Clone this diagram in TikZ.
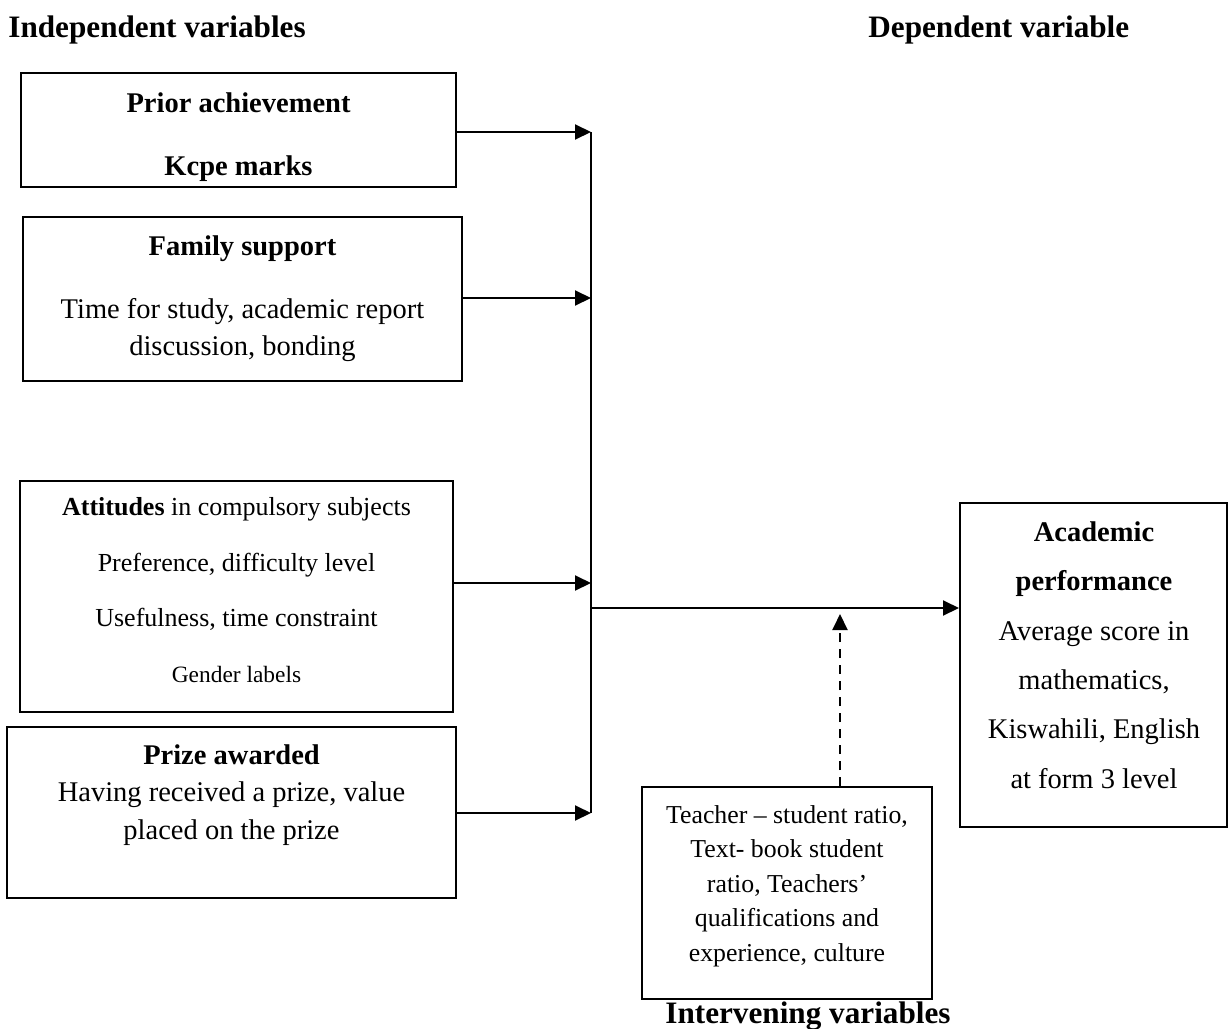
\documentclass[tikz,border=0pt]{standalone}
\usepackage{fontspec}
\setmainfont{Liberation Serif}
\usetikzlibrary{arrows.meta}
\usetikzlibrary{fit}
\tikzset{varbox/.style = {draw, line width=1pt, inner sep=0pt},
         arrow/.style = {line width=1pt, -{Triangle[length=8pt, width=7.5pt]}},
         heading/.style = {font=\fontsize{15.6}{18}\selectfont\bfseries, inner sep=0pt}}

\begin{document}
\begin{tikzpicture}[x=0.5pt, y=-0.5pt]
      \useasboundingbox (0, 0) rectangle (1231, 1028);

      \node [heading, anchor=west] (indep) at (8, 30) {Independent variables};
      \node [heading, anchor=west] (dep) at (868, 30) {Dependent variable};
      \node [heading, anchor=west] (interv) at (665, 1016) {Intervening variables};

      \node [varbox, fit={(21, 73) (456, 187)}] (prior) {};
      \node [varbox, fit={(23, 217) (462, 381)}] (family) {};
      \node [varbox, fit={(20, 481) (453, 712)}] (attitudes) {};
      \node [varbox, fit={(7, 727) (456, 898)}] (prize) {};
      \node [varbox, fit={(960, 503) (1227, 827)}] (academic) {};
      \node [varbox, fit={(642, 787) (932, 999)}] (intervening) {};

      \node [align=center, font=\fontsize{14.25}{31.5}\selectfont\bfseries] (priortext) at (238.5, 137.5)
            {Prior achievement\\ Kcpe marks};
      \node [align=center, font=\fontsize{14.25}{18.5}\selectfont] (familytext) at (242.5, 299)
            {\textbf{Family support}\\[13pt] Time for study, academic report\\ discussion, bonding};
      \node [align=center, font=\fontsize{13}{27.7}\selectfont] (attitudestext) at (236.5, 590)
            {\textbf{Attitudes} in compulsory subjects\\ Preference, difficulty level\\
             Usefulness, time constraint\\ {\fontsize{11.7}{27.7}\selectfont Gender labels}};
      \node [align=center, font=\fontsize{14.25}{18.75}\selectfont] (prizetext) at (231.5, 795)
            {\textbf{Prize awarded}\\ Having received a prize, value\\ placed on the prize};
      \node [align=center, font=\fontsize{14.25}{24.7}\selectfont] (academictext) at (1094, 655)
            {\textbf{Academic}\\ \textbf{performance}\\ Average score in\\ mathematics,\\
             Kiswahili, English\\ at form 3 level};
      \node [align=center, font=\fontsize{12.9}{17.25}\selectfont] (interveningtext) at (787, 886)
            {Teacher – student ratio,\\ Text- book student\\ ratio, Teachers’\\
             qualifications and\\ experience, culture};

      \coordinate (busprior) at (591, 132);
      \coordinate (busfamily) at (591, 298);
      \coordinate (busatt) at (591, 583);
      \coordinate (busprize) at (591, 813);
      \coordinate (busout) at (591, 608);
      \coordinate (dashtip) at (840, 614);

      \draw [line width=1pt] (busprior) -- (busprize);

      \draw [arrow] (prior.east |- busprior) -- (busprior);
      \draw [arrow] (family.east |- busfamily) -- (busfamily);
      \draw [arrow] (attitudes.east |- busatt) -- (busatt);
      \draw [arrow] (prize.east |- busprize) -- (busprize);
      \draw [arrow] (busout) -- (academic.west |- busout);
      \draw [arrow, dash pattern=on 4.5pt off 3.5pt] (intervening.north -| dashtip) -- (dashtip);
    \end{tikzpicture}
\end{document}
